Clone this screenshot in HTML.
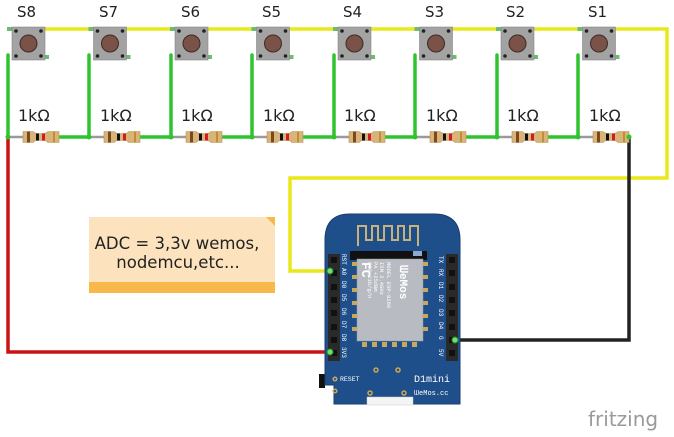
<!DOCTYPE html>
<html><head><meta charset="utf-8"><style>
html,body{margin:0;padding:0;background:#fff;width:674px;height:437px;overflow:hidden}
svg{display:block}
</style></head><body>
<svg width="674" height="437" viewBox="0 0 674 437" xmlns="http://www.w3.org/2000/svg" font-family="DejaVu Sans, Liberation Sans, sans-serif">
<defs>
<g id="btn">
  <rect x="-5" y="27" width="6" height="4" fill="#6dbb6d"/>
  <rect x="31" y="55" width="6" height="4" fill="#6dbb6d"/>
  <rect x="0" y="27" width="33" height="33" fill="#a3a3a3" stroke="#888" stroke-width="0.6"/>
  <circle cx="16.5" cy="43.5" r="8.5" fill="#7a5248" stroke="#3e2a24" stroke-width="1"/>
  <circle cx="4" cy="31" r="1.8" fill="#222"/><circle cx="29" cy="31" r="1.8" fill="#222"/>
  <circle cx="4" cy="56" r="1.8" fill="#222"/><circle cx="29" cy="56" r="1.8" fill="#222"/>
</g>
<g id="res">
  <line x1="0" y1="137" x2="50" y2="137" stroke="#9a9a9a" stroke-width="2.5"/>
  <path d="M15 131.5 h10 q2 2 4 2 h7 q2 0 4 -2 h11 v11 h-11 q-2 -2 -4 -2 h-7 q-2 0 -4 2 h-10 z" fill="#d8b47a" stroke="#b8925a" stroke-width="0.6"/>
  <rect x="19" y="131.5" width="3" height="11" fill="#7a4a1c"/>
  <rect x="28" y="133.5" width="3" height="7" fill="#111"/>
  <rect x="34" y="133.5" width="3" height="7" fill="#d21d1d"/>
  <rect x="45" y="131.5" width="2" height="11" fill="#c09030"/>
</g>
</defs>

<g stroke="#e8e81a" stroke-width="3.5" fill="none">
<line x1="44" y1="29" x2="89" y2="29"/>
<line x1="126" y1="29" x2="170" y2="29"/><line x1="207" y1="29" x2="252" y2="29"/>
<line x1="289" y1="29" x2="333" y2="29"/><line x1="370" y1="29" x2="415" y2="29"/>
<line x1="452" y1="29" x2="496" y2="29"/><line x1="533" y1="29" x2="578" y2="29"/>
<polyline points="615,29 667,29 667,178 290,178 290,271 330,271"/>
</g>
<g stroke="#2fc42f" stroke-width="3.5" fill="none" stroke-linecap="round">
<line x1="8" y1="55" x2="8" y2="137"/>
<polyline points="58,137 89,137 89,55"/>
<polyline points="139,137 171,137 171,55"/>
<polyline points="221,137 252,137 252,55"/>
<polyline points="302,137 334,137 334,55"/>
<polyline points="384,137 415,137 415,55"/>
<polyline points="465,137 497,137 497,55"/>
<polyline points="547,137 578,137 578,55"/>
</g>
<polyline points="8,137 8,352 330,352" stroke="#c81414" stroke-width="3.5" fill="none"/>
<polyline points="629,137 629,340 455,340" stroke="#222" stroke-width="3.5" fill="none"/>

<g fill="#222" font-size="15">
<text x="17" y="17">S8</text><text x="99" y="17">S7</text><text x="181" y="17">S6</text><text x="262" y="17">S5</text>
<text x="343" y="17">S4</text><text x="425" y="17">S3</text><text x="506" y="17">S2</text><text x="588" y="17">S1</text>
</g>
<use href="#btn" x="12"/><use href="#btn" x="93.5"/><use href="#btn" x="175"/><use href="#btn" x="256.5"/>
<use href="#btn" x="338"/><use href="#btn" x="419.5"/><use href="#btn" x="501"/><use href="#btn" x="582.5"/>

<use href="#res" x="8"/><use href="#res" x="89"/><use href="#res" x="171"/><use href="#res" x="252"/>
<use href="#res" x="334"/><use href="#res" x="415"/><use href="#res" x="497"/><use href="#res" x="578"/>
<g fill="#222" font-size="16">
<text x="18" y="121">1kΩ</text><text x="100" y="121">1kΩ</text><text x="181" y="121">1kΩ</text><text x="263" y="121">1kΩ</text>
<text x="344" y="121">1kΩ</text><text x="426" y="121">1kΩ</text><text x="507" y="121">1kΩ</text><text x="589" y="121">1kΩ</text>
</g>
<g fill="#2fc42f"><circle cx="8" cy="137" r="2.5"/><circle cx="89" cy="137" r="2.5"/><circle cx="171" cy="137" r="2.5"/><circle cx="252" cy="137" r="2.5"/><circle cx="334" cy="137" r="2.5"/><circle cx="415" cy="137" r="2.5"/><circle cx="497" cy="137" r="2.5"/><circle cx="578" cy="137" r="2.5"/><circle cx="629" cy="137" r="2.5"/></g>

<rect x="89" y="217" width="186" height="76" fill="#fde3bd"/>
<rect x="89" y="282" width="186" height="11" fill="#f8b84a"/>
<path d="M266 217 L275 217 L275 226 Z" fill="#f8b84a"/>
<text x="177" y="249" text-anchor="middle" font-size="16.5" fill="#222">ADC = 3,3v  wemos,</text>
<text x="178" y="268" text-anchor="middle" font-size="16.5" fill="#222">nodemcu,etc...</text>

<rect x="319" y="374" width="6" height="14" fill="#111"/>
<path d="M350 214 H434 Q460 214 460 240 V404 H334 V385 H325 V240 Q325 214 350 214 Z" fill="#1f4f8a" stroke="#183e6e" stroke-width="1"/>
<path d="M358 246 V226 H366 V240 H372 V226 H378 V240 H384 V226 H392 V240 H398 V226 H404 V240 H410 V226 H418 V246" stroke="#c8b27a" stroke-width="2" fill="none"/>
<rect x="350" y="251" width="77" height="9" fill="#111"/>
<rect x="413" y="251" width="9" height="5" fill="#8fa8cf"/>
<rect x="357" y="259" width="66" height="82" fill="#b8bcc2" stroke="#999" stroke-width="0.5"/>
<g fill="#c8a85a"><rect x="352" y="262" width="5" height="4"/><rect x="352" y="275" width="5" height="4"/><rect x="352" y="288" width="5" height="4"/><rect x="352" y="301" width="5" height="4"/><rect x="352" y="314" width="5" height="4"/><rect x="352" y="327" width="5" height="4"/>
<rect x="423" y="262" width="5" height="4"/><rect x="423" y="275" width="5" height="4"/><rect x="423" y="288" width="5" height="4"/><rect x="423" y="301" width="5" height="4"/><rect x="423" y="314" width="5" height="4"/><rect x="423" y="327" width="5" height="4"/>
<rect x="362" y="342" width="5" height="5"/><rect x="372" y="342" width="5" height="5"/><rect x="382" y="342" width="5" height="5"/><rect x="392" y="342" width="5" height="5"/><rect x="402" y="342" width="5" height="5"/><rect x="412" y="342" width="5" height="5"/></g>
<g fill="#fff" font-size="7" font-family="Liberation Mono, monospace">
<text transform="translate(400,265) rotate(90)" font-size="11" font-weight="bold">ᗯeMos</text>
<text transform="translate(387,262) rotate(90)" font-size="5.5">MODEL ESP-8266</text>
<text transform="translate(380,262) rotate(90)" font-size="5.5">ISM 2.4GHz</text>
<text transform="translate(374,262) rotate(90)" font-size="5.5">PA +25dBm</text>
<text transform="translate(368,262) rotate(90)" font-size="5.5">802.11b/g/n</text>
<text transform="translate(362,262) rotate(90)" font-size="13" font-weight="bold">FC</text>
</g>
<rect x="328" y="254" width="12" height="107" fill="#2a2a2a"/>
<rect x="446" y="254" width="12" height="107" fill="#2a2a2a"/>
<g fill="#111"><rect x="331" y="257" width="6" height="6"/><rect x="331" y="270" width="6" height="6"/><rect x="331" y="284" width="6" height="6"/><rect x="331" y="297" width="6" height="6"/><rect x="331" y="310" width="6" height="6"/><rect x="331" y="324" width="6" height="6"/><rect x="331" y="337" width="6" height="6"/><rect x="331" y="350" width="6" height="6"/>
<rect x="449" y="257" width="6" height="6"/><rect x="449" y="270" width="6" height="6"/><rect x="449" y="284" width="6" height="6"/><rect x="449" y="297" width="6" height="6"/><rect x="449" y="310" width="6" height="6"/><rect x="449" y="324" width="6" height="6"/><rect x="449" y="337" width="6" height="6"/><rect x="449" y="350" width="6" height="6"/></g>
<g fill="#fff" font-size="6" font-family="Liberation Mono, monospace">
<text transform="translate(342,254) rotate(90)">RST</text><text transform="translate(342,268) rotate(90)">A0</text>
<text transform="translate(342,281) rotate(90)">D0</text><text transform="translate(342,294) rotate(90)">D5</text>
<text transform="translate(342,308) rotate(90)">D6</text><text transform="translate(342,321) rotate(90)">D7</text>
<text transform="translate(342,334) rotate(90)">D8</text><text transform="translate(342,347) rotate(90)">3V3</text>
<text transform="translate(439,256) rotate(90)">TX</text><text transform="translate(439,269) rotate(90)">RX</text>
<text transform="translate(439,282) rotate(90)">D1</text><text transform="translate(439,295) rotate(90)">D2</text>
<text transform="translate(439,309) rotate(90)">D3</text><text transform="translate(439,322) rotate(90)">D4</text>
<text transform="translate(439,336) rotate(90)">G</text><text transform="translate(439,349) rotate(90)">5V</text>
<text x="340" y="381" font-size="6.5">RESET</text>
<text x="414" y="382" font-size="10">D1mini</text>
<text x="414" y="395" font-size="7">ᗯeMos.cc</text>
</g>
<g fill="none" stroke="#c8a85a" stroke-width="1.5"><circle cx="335" cy="379" r="1.8"/><circle cx="335" cy="391" r="1.8"/><circle cx="376" cy="370" r="2"/><circle cx="398" cy="370" r="2"/><circle cx="370" cy="393" r="2"/><circle cx="404" cy="393" r="2"/></g>
<rect x="367" y="397" width="46" height="8" fill="#f4f4f4" stroke="#ccc" stroke-width="0.5"/>
<circle cx="330" cy="271" r="3" fill="#6ee06e" stroke="#2a8a2a"/>
<circle cx="330" cy="352" r="3" fill="#6ee06e" stroke="#2a8a2a"/>
<circle cx="455" cy="340" r="3" fill="#6ee06e" stroke="#2a8a2a"/>

<text x="588" y="426" font-size="20" fill="#9a9a9a">fritzing</text>
</svg>
</body></html>
